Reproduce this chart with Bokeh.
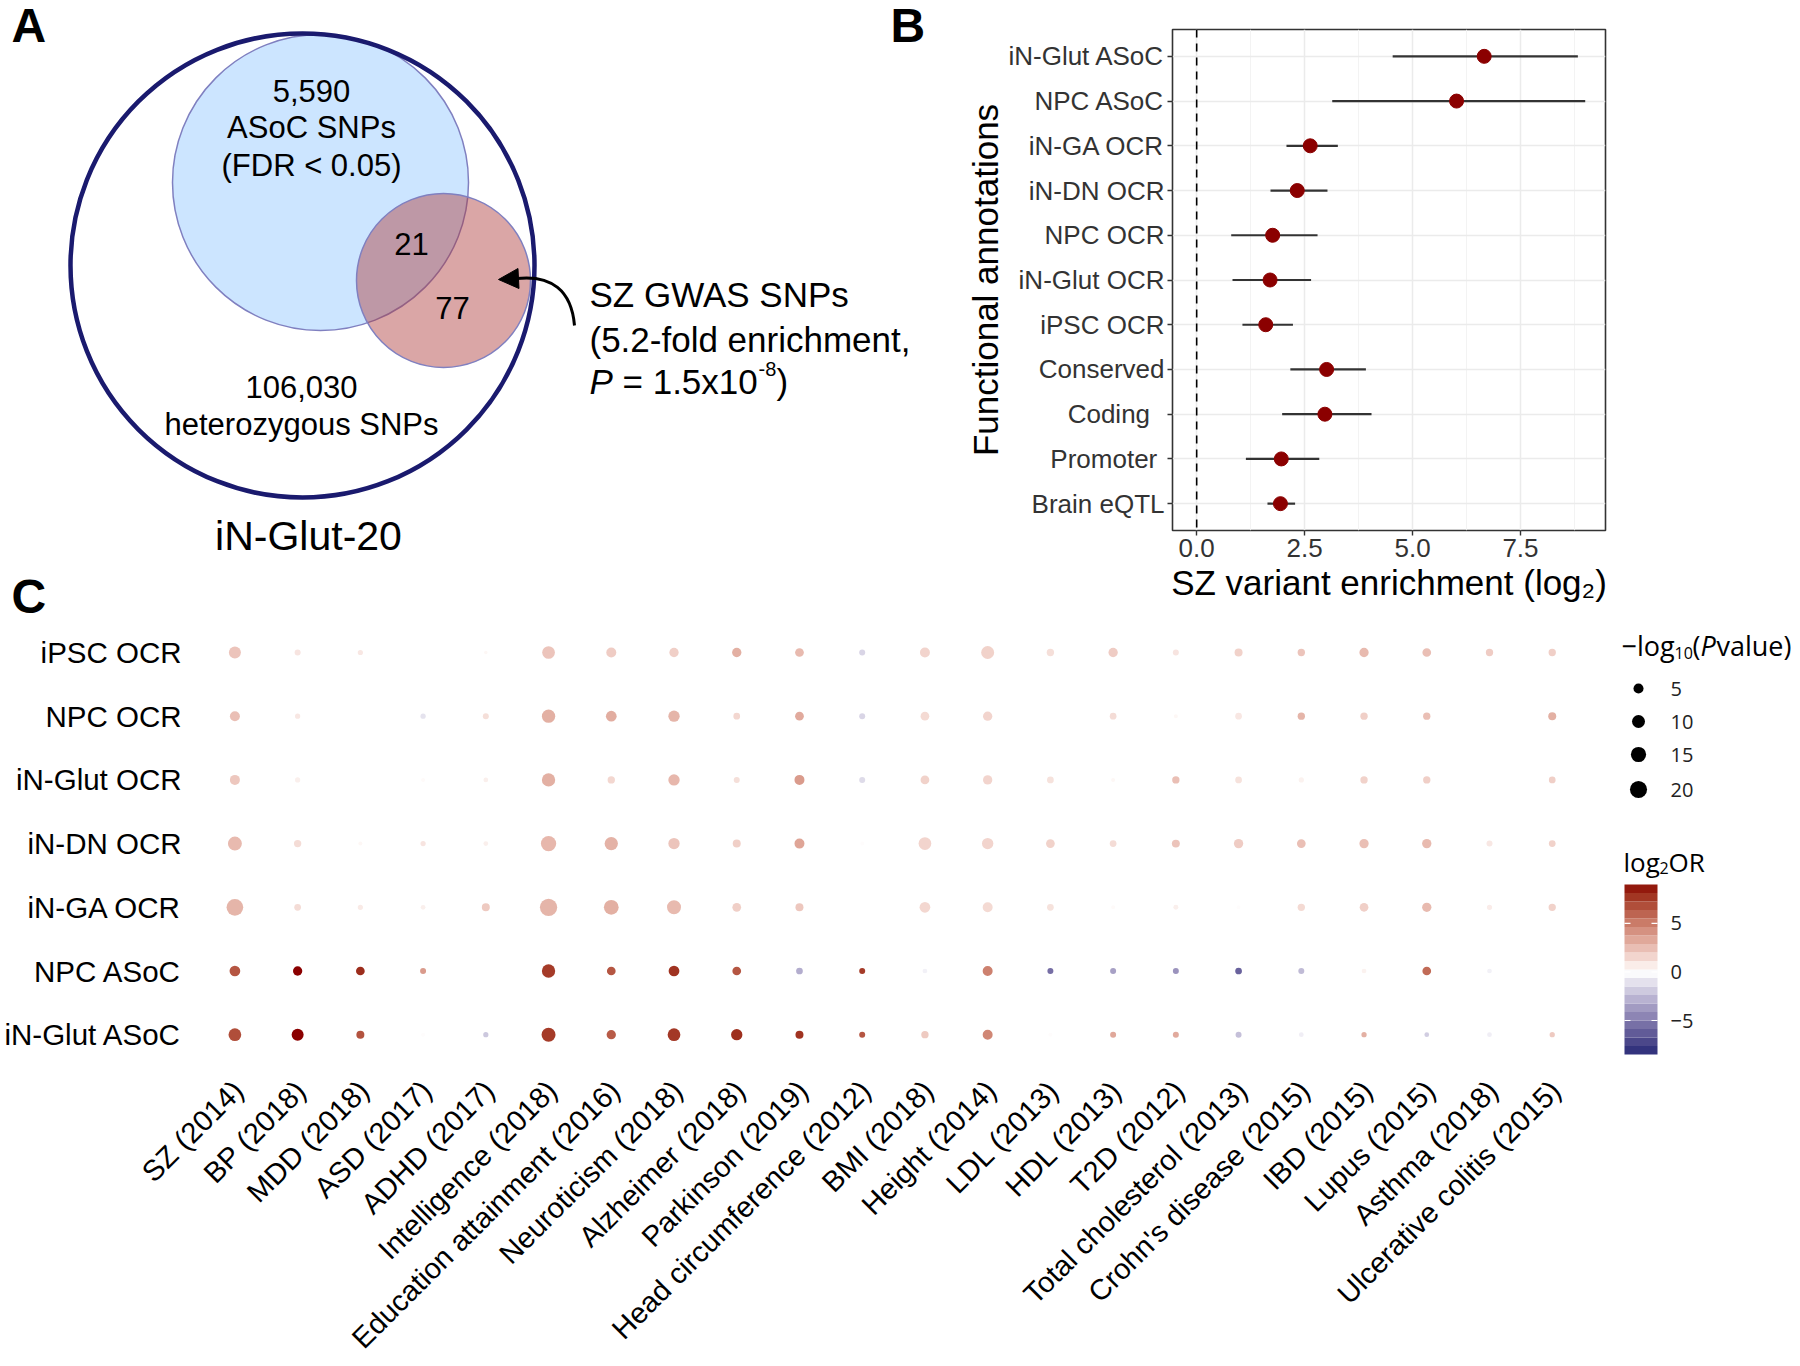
import math
from bokeh.plotting import figure
from bokeh.layouts import column, row
from bokeh.models import Range1d, FixedTicker, Span, Arrow, NormalHead, PrintfTickFormatter
from bokeh.core.properties import value
from bokeh.embed import file_html
from bokeh.resources import INLINE

FONT = "Liberation Sans"
LFONT = "Open Sans"

# ---------------- Panel A data ----------------
venn_het_snps = 106030
venn_asoc_snps = 5590
venn_gwas_in_asoc = 21
venn_gwas_other = 77
venn_line = "iN-Glut-20"
gwas_fold = 5.2
gwas_p_mant = 1.5
gwas_p_exp = -8

# ---------------- Panel B data ----------------
b_labels = ["iN-Glut ASoC", "NPC ASoC", "iN-GA OCR", "iN-DN OCR", "NPC OCR", "iN-Glut OCR",
            "iPSC OCR", "Conserved", "Coding", "Promoter", "Brain eQTL"]
b_est = [6.66, 6.02, 2.63, 2.33, 1.76, 1.70, 1.60, 3.01, 2.97, 1.96, 1.94]
b_lo = [4.54, 3.14, 2.08, 1.71, 0.80, 0.83, 1.06, 2.17, 1.98, 1.14, 1.64]
b_hi = [8.83, 9.00, 3.27, 3.03, 2.80, 2.65, 2.23, 3.92, 4.05, 2.84, 2.28]

# ---------------- Panel C data ----------------
c_traits = ["SZ (2014)", "BP (2018)", "MDD (2018)", "ASD (2017)", "ADHD (2017)", "Intelligence (2018)",
            "Education attainment (2016)", "Neuroticism (2018)", "Alzheimer (2018)", "Parkinson (2019)",
            "Head circumference (2012)", "BMI (2018)", "Height (2014)", "LDL (2013)", "HDL (2013)",
            "T2D (2012)", "Total cholesterol (2013)", "Crohn's disease (2015)", "IBD (2015)",
            "Lupus (2015)", "Asthma (2018)", "Ulcerative colitis (2015)"]
c_annots = ["iPSC OCR", "NPC OCR", "iN-Glut OCR", "iN-DN OCR", "iN-GA OCR", "NPC ASoC", "iN-Glut ASoC"]

# -log10(P) per annotation (order of c_traits)
mlp_ipsc_ocr = [8.1, 0.9, 0.5, 0, 0.02, 9.5, 4.9, 4.0, 4.0, 3.3, 0.9, 4.9, 10.0, 1.9, 4.0, 0.9, 2.5, 1.9, 4.0, 3.3, 1.9, 1.9]
mlp_npc_ocr = [4.9, 0.5, 0, 0.5, 0.9, 10.7, 6.0, 7.0, 1.4, 3.3, 0.9, 3.3, 4.0, 0, 1.4, 0.1, 1.4, 1.9, 1.9, 1.9, 0, 2.5]
mlp_glut_ocr = [4.9, 0.5, 0, 0.1, 0.3, 10.7, 1.9, 7.0, 0.9, 4.9, 0.9, 3.3, 4.0, 1.4, 0.1, 1.9, 1.4, 0.5, 1.9, 1.9, 0, 1.4]
mlp_dn_ocr = [12.1, 1.9, 0.1, 0.5, 0.3, 15.2, 10.7, 7.0, 2.5, 4.9, 0.1, 9.5, 7.0, 3.3, 1.4, 2.5, 4.0, 3.3, 4.0, 4.0, 0.9, 1.4]
mlp_ga_ocr = [18.8, 1.4, 0.5, 0.3, 2.5, 20.5, 13.8, 12.1, 3.3, 2.5, 0, 6.0, 4.9, 1.4, 0.1, 0.4, 0.1, 1.9, 3.3, 4.0, 0.5, 1.9]
mlp_npc_asoc = [6.0, 4.0, 3.3, 0.9, 0, 10.7, 3.3, 6.0, 3.3, 1.4, 0.9, 0.3, 4.9, 0.9, 0.9, 0.9, 1.4, 0.9, 0.3, 3.3, 0.3, 0]
mlp_glut_asoc = [9.5, 8.1, 2.5, 0.1, 0.5, 12.1, 4.0, 9.5, 7.0, 2.5, 0.9, 1.9, 4.9, 0.1, 0.9, 0.9, 0.9, 0.3, 0.5, 0.3, 0.3, 0.5]

# log2 OR per annotation (order of c_traits)
lor_ipsc_ocr = [2.2, 1.0, 0.9, 0, 0.3, 2.2, 1.9, 1.8, 3.0, 2.6, -1.5, 1.6, 1.7, 1.2, 1.9, 1.0, 1.7, 2.2, 2.6, 2.4, 1.9, 1.8]
lor_npc_ocr = [2.4, 0.9, 0, -1.0, 1.2, 3.0, 3.1, 2.8, 1.5, 3.2, -1.5, 1.4, 1.6, 0, 1.3, 0.3, 0.9, 2.8, 1.8, 2.4, 0, 3.0]
lor_glut_ocr = [2.1, 0.6, 0, 0.2, 0.6, 3.0, 1.5, 2.7, 1.2, 3.8, -1.3, 1.7, 1.6, 1.1, 0.3, 2.4, 1.1, 0.5, 1.7, 1.8, 0, 1.8]
lor_dn_ocr = [2.6, 1.3, 0.3, 1.0, 0.6, 2.7, 2.9, 2.2, 1.8, 3.4, 0.1, 1.6, 1.6, 1.7, 1.3, 2.2, 1.9, 2.4, 2.4, 2.6, 0.9, 1.7]
lor_ga_ocr = [2.8, 1.3, 0.8, 0.6, 2.0, 2.8, 3.0, 2.6, 1.8, 2.1, 0, 1.5, 1.4, 1.1, 0.2, 0.6, 0.1, 1.4, 1.8, 2.6, 0.7, 1.7]
lor_npc_asoc = [6.5, 9.0, 8.0, 3.8, 0, 7.5, 6.5, 7.8, 6.5, -3.0, 7.5, -0.5, 4.8, -5.5, -3.5, -4.0, -6.0, -2.5, 0.5, 5.7, -0.5, 0]
lor_glut_asoc = [6.8, 9.0, 6.6, 0.1, -2.0, 7.5, 6.3, 7.6, 7.9, 7.8, 6.5, 2.0, 4.6, 0.1, 3.3, 3.2, -2.3, -0.6, 3.0, -1.8, -0.6, 2.0]

c_mlp = [mlp_ipsc_ocr, mlp_npc_ocr, mlp_glut_ocr, mlp_dn_ocr, mlp_ga_ocr, mlp_npc_asoc, mlp_glut_asoc]
c_lor = [lor_ipsc_ocr, lor_npc_ocr, lor_glut_ocr, lor_dn_ocr, lor_ga_ocr, lor_npc_asoc, lor_glut_asoc]

size_breaks = [5, 10, 15, 20]
color_limits = (-8.5, 9.0)
color_breaks = [5, 0, -5]

# ---------------- scales ----------------
def dot_diameter(v):
    return 3 + 14.8 * math.sqrt(max(v, 0) / 22.0)

def _lin(c):
    c = c / 255.0
    return c / 12.92 if c <= 0.04045 else ((c + 0.055) / 1.055) ** 2.4

def _gam(c):
    c = max(0.0, min(1.0, c))
    v = 12.92 * c if c <= 0.0031308 else 1.055 * c ** (1 / 2.4) - 0.055
    return int(round(v * 255))

def hex_to_lab(h):
    r, g, b = [_lin(int(h[i:i + 2], 16)) for i in (1, 3, 5)]
    X = (0.4124 * r + 0.3576 * g + 0.1805 * b) / 0.95047
    Y = 0.2126 * r + 0.7152 * g + 0.0722 * b
    Z = (0.0193 * r + 0.1192 * g + 0.9505 * b) / 1.08883
    f = lambda t: t ** (1 / 3) if t > 0.008856 else 7.787 * t + 16 / 116
    fx, fy, fz = f(X), f(Y), f(Z)
    return (116 * fy - 16, 500 * (fx - fy), 200 * (fy - fz))

def lab_to_hex(L, a, b):
    fy = (L + 16) / 116
    fx = fy + a / 500
    fz = fy - b / 200
    finv = lambda t: t ** 3 if t ** 3 > 0.008856 else (t - 16 / 116) / 7.787
    X = 0.95047 * finv(fx)
    Y = finv(fy)
    Z = 1.08883 * finv(fz)
    r = 3.2406 * X - 1.5372 * Y - 0.4986 * Z
    g = -0.9689 * X + 1.8758 * Y + 0.0415 * Z
    bb = 0.0557 * X - 0.2040 * Y + 1.0570 * Z
    return "#%02x%02x%02x" % (_gam(r), _gam(g), _gam(bb))

LOW, MID, HIGH = hex_to_lab("#10206E"), hex_to_lab("#FFFFFF"), hex_to_lab("#8B0000")
EXTENT = max(abs(color_limits[0]), abs(color_limits[1]))

def lor_color(v):
    t = min(1.0, abs(v) / EXTENT)
    end = HIGH if v >= 0 else LOW
    return lab_to_hex(*[MID[i] + (end[i] - MID[i]) * t for i in range(3)])

def put_text(p, x, y, s, size, align="center", baseline="middle", style="normal", font=FONT, color="black"):
    p.text(x=[x], y=[y], text=[s], text_align=align, text_baseline=baseline, text_font=value(font),
           text_font_size=size, text_font_style=style, text_color=color)

def blank_fig(w, h):
    p = figure(width=w, height=h, x_range=Range1d(0, w), y_range=Range1d(h, 0), output_backend="svg",
               toolbar_location=None, min_border=0, x_axis_location=None, y_axis_location=None,
               frame_align=False)
    p.grid.visible = False
    p.outline_line_color = None
    return p

TOP_H = 626

# ---------------- Panel A (Venn) ----------------
pA = blank_fig(928, TOP_H)
pA.circle(x=[320], y=[182], radius=[148], fill_color="#CCE5FF", line_color="#8080C0", line_width=1.5)
pA.circle(x=[443], y=[280], radius=[87], fill_color="#AE3939", fill_alpha=0.45, line_color="#8080C0", line_width=1.5)
pA.circle(x=[302], y=[265], radius=[232], fill_color=None, line_color="#1A1A6E", line_width=4.5)

put_text(pA, 311, 90, f"{venn_asoc_snps:,}", "31px")
put_text(pA, 311, 127, "ASoC SNPs", "31px")
put_text(pA, 311, 165, "(FDR < 0.05)", "31px")
put_text(pA, 411, 243, f"{venn_gwas_in_asoc}", "31px")
put_text(pA, 452, 307, f"{venn_gwas_other}", "31px")
put_text(pA, 301, 386, f"{venn_het_snps:,}", "31px")
put_text(pA, 301, 424, "heterozygous SNPs", "31px")
put_text(pA, 308, 535, venn_line, "41px")

put_text(pA, 589, 294, "SZ GWAS SNPs", "35px", align="left")
put_text(pA, 589, 339, f"({gwas_fold}-fold enrichment,", "35px", align="left")
put_text(pA, 589, 381, "P", "35px", align="left", style="italic")
put_text(pA, 622, 381, f"= {gwas_p_mant}x10", "35px", align="left")
put_text(pA, 758, 368, f"{gwas_p_exp}", "20px", align="left")
put_text(pA, 776, 381, ")", "35px", align="left")

pA.bezier(x0=[574], y0=[325], x1=[516], y1=[278], cx0=[571], cy0=[290], cx1=[551], cy1=[274],
          line_color="black", line_width=3)
pA.add_layout(Arrow(end=NormalHead(size=20, fill_color="black", line_color="black"),
                    x_start=518, y_start=278, x_end=498, y_end=279, line_color="black", line_width=3))

put_text(pA, 11, 25, "A", "48px", align="left", style="bold")
put_text(pA, 890, 25, "B", "48px", align="left", style="bold")
put_text(pA, 11, 596, "C", "48px", align="left", style="bold")

# ---------------- Panel B (forest plot) ----------------
nB = len(b_labels)
b_y = [nB - 1 - i for i in range(nB)]
b_display = {"Coding": "Coding\u00a0\u00a0", "Promoter": "Promoter\u00a0"}
pB = figure(width=864, height=TOP_H, x_range=Range1d(-0.56, 9.47), y_range=Range1d(-0.6, nB - 1 + 0.6),
            output_backend="svg", toolbar_location=None, min_border_left=244, min_border_right=187,
            min_border_top=29, min_border_bottom=TOP_H - 530, frame_align=False)
xt = FixedTicker(ticks=[0, 2.5, 5, 7.5], minor_ticks=[1.25, 3.75, 6.25, 8.75])
yt = FixedTicker(ticks=list(range(nB)))
pB.xaxis.ticker = xt
pB.xgrid.ticker = xt
pB.yaxis.ticker = yt
pB.ygrid.ticker = yt
pB.xaxis.formatter = PrintfTickFormatter(format="%.1f")
pB.yaxis.major_label_overrides = {y: b_display.get(l, l) for y, l in zip(b_y, b_labels)}
for ax in (pB.xaxis, pB.yaxis):
    ax.axis_line_color = None
    ax.major_tick_line_color = "#333333"
    ax.major_tick_line_width = 1.4
    ax.major_tick_out = 5
    ax.major_tick_in = 0
    ax.minor_tick_line_color = None
    ax.major_label_text_font = FONT
    ax.major_label_text_font_size = "26px"
    ax.major_label_text_color = "#333333"
    ax.major_label_standoff = 3
    ax.axis_label_text_font = FONT
    ax.axis_label_text_font_style = "normal"
    ax.axis_label_text_font_size = "35px"
    ax.axis_label_text_color = "black"
    ax.axis_label_standoff = 3
pB.yaxis.axis_label_standoff = 0
pB.xaxis.axis_label = "SZ variant enrichment (log\u2082)"
pB.yaxis.axis_label = "Functional annotations"
pB.xgrid.grid_line_color = "#EBEBEB"
pB.xgrid.grid_line_width = 1.5
pB.xgrid.minor_grid_line_color = "#F2F2F2"
pB.xgrid.minor_grid_line_width = 0.9
pB.ygrid.grid_line_color = "#EBEBEB"
pB.ygrid.grid_line_width = 1.5
pB.outline_line_color = "#333333"
pB.outline_line_width = 1.6
pB.add_layout(Span(location=0, dimension="height", line_color="black", line_dash="8 6", line_width=1.6))
pB.segment(x0=b_lo, y0=b_y, x1=b_hi, y1=b_y, line_color="#333333", line_width=2.2)
pB.scatter(x=b_est, y=b_y, size=14, fill_color="#8B0000", line_color="#8B0000")

# ---------------- Panel C (dot matrix) ----------------
nT, nR = len(c_traits), len(c_annots)
C_W, C_H, C_RIGHT = 1598, 732, 15
COL_PX, ROW_PX, FIRST_COL_PX, FIRST_ROW_PX = 62.73, 63.7, 234.4, 652 - TOP_H
frame_w = C_W - C_RIGHT
x0 = -FIRST_COL_PX / COL_PX
y_top = (nR - 1) + FIRST_ROW_PX / ROW_PX
pC = figure(width=C_W, height=C_H, x_range=Range1d(x0, x0 + frame_w / COL_PX),
            y_range=Range1d(y_top - C_H / ROW_PX, y_top),
            output_backend="svg", toolbar_location=None, x_axis_location=None, y_axis_location=None,
            min_border_left=0, min_border_right=C_RIGHT, min_border_top=0, min_border_bottom=0,
            frame_align=False)
pC.grid.visible = False
pC.outline_line_color = None

xs, ys, ds, cs = [], [], [], []
for k in range(nR):
    for j in range(nT):
        xs.append(j)
        ys.append(nR - 1 - k)
        ds.append(dot_diameter(c_mlp[k][j]))
        cs.append(lor_color(c_lor[k][j]))
pC.scatter(x=xs, y=ys, size=ds, fill_color=cs, line_color=None)

# row labels
pC.text(x=[-0.5] * nR, y=[nR - 1 - k for k in range(nR)], text=c_annots, x_offset=-22,
        text_align="right", text_baseline="middle", text_font=value(FONT), text_font_size="29.5px",
        text_color="black")
# trait labels
label_y = -0.62
pC.text(x=list(range(nT)), y=[label_y] * nT, text=c_traits, angle=math.pi / 4, text_align="right",
        text_baseline="top", x_offset=-8, text_font=value(FONT), text_font_size="29px", text_color="black")

# ---------------- Legend for panel C ----------------
pL = blank_fig(194, C_H)
put_text(pL, 23, 19, "\u2212log", "27px", align="left", font=LFONT)
put_text(pL, 76, 26, "10", "16px", align="left", font=LFONT)
put_text(pL, 94, 19, "(", "27px", align="left", font=LFONT)
put_text(pL, 102, 19, "P", "27px", align="left", font=LFONT, style="italic")
put_text(pL, 118, 19, "value)", "27px", align="left", font=LFONT)
key_y = [62, 95, 128, 163]
pL.scatter(x=[40] * len(size_breaks), y=key_y, size=[dot_diameter(v) for v in size_breaks],
           fill_color="black", line_color=None)
pL.text(x=[72] * len(size_breaks), y=key_y, text=[str(v) for v in size_breaks], text_align="left",
        text_baseline="middle", text_font=value(LFONT), text_font_size="20px", text_color="#222222")

put_text(pL, 25, 235, "log", "26px", align="left", font=LFONT)
put_text(pL, 61, 241, "2", "16px", align="left", font=LFONT)
put_text(pL, 70, 235, "OR", "26px", align="left", font=LFONT)

cb_x0, cb_x1, cb_top, cb_bot, nbin = 26, 59, 258, 428, 20
lo, hi = color_limits
ymap = lambda v: cb_top + (hi - v) / (hi - lo) * (cb_bot - cb_top)
edges = [lo + (hi - lo) * i / nbin for i in range(nbin + 1)]
pL.quad(left=[cb_x0] * nbin, right=[cb_x1] * nbin, bottom=[ymap(edges[i]) for i in range(nbin)],
        top=[ymap(edges[i + 1]) for i in range(nbin)],
        fill_color=[lor_color((edges[i] + edges[i + 1]) / 2) for i in range(nbin)], line_color=None)
for v in color_breaks:
    yy = ymap(v)
    pL.segment(x0=[cb_x0, cb_x1 - 6], y0=[yy, yy], x1=[cb_x0 + 6, cb_x1], y1=[yy, yy],
               line_color="white", line_width=1.2)
pL.text(x=[72] * len(color_breaks), y=[ymap(v) for v in color_breaks],
        text=[str(v).replace("-", "\u2212") for v in color_breaks], text_align="left",
        text_baseline="middle", text_font=value(LFONT), text_font_size="20px", text_color="#222222")

layout = column(row(pA, pB), row(pC, pL))
open("out.html", "w").write(file_html(layout, INLINE))
